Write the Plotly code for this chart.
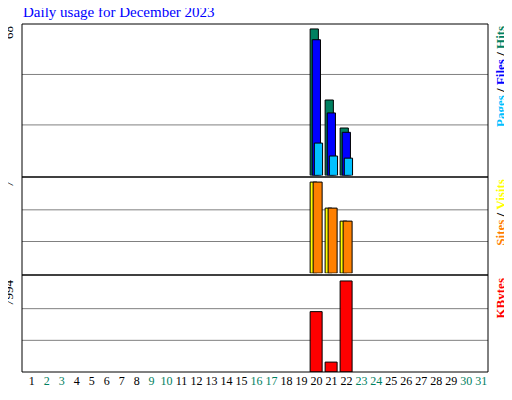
import plotly.graph_objects as go

days = list(range(1, 32))
hits = [0]*19 + [68, 35, 22] + [0]*9
files = [0]*19 + [63, 29, 20] + [0]*9
pages = [0]*19 + [15, 9, 8] + [0]*9
visits = [0]*19 + [7, 5, 4] + [0]*9
sites = [0]*19 + [7, 5, 4] + [0]*9
kbytes = [0]*19 + [5300, 870, 7994] + [0]*9
weekend = [2, 3, 9, 10, 16, 17, 23, 24, 30, 31]

C_HITS, C_FILES, C_PAGES = "#008060", "#0000FF", "#00C0FF"
C_VIS, C_SITES, C_KB = "#FFFF00", "#FF8000", "#FF0000"
FONT = "Liberation Serif"

def bars(y, color, off, w, ax):
    xs = [d for d, v in zip(days, y) if v > 0]
    ys = [v for v in y if v > 0]
    return go.Bar(x=xs, y=ys, offset=off, width=w, marker=dict(color=color, line=dict(color="black", width=1)),
                  xaxis="x", yaxis=ax, showlegend=False, hoverinfo="skip")

fig = go.Figure()
fig.add_trace(bars(hits, C_HITS, -0.42, 0.55, "y"))
fig.add_trace(bars(files, C_FILES, -0.28, 0.55, "y"))
fig.add_trace(bars(pages, C_PAGES, -0.14, 0.55, "y"))
fig.add_trace(bars(visits, C_VIS, -0.42, 0.45, "y2"))
fig.add_trace(bars(sites, C_SITES, -0.22, 0.6, "y2"))
fig.add_trace(bars(kbytes, C_KB, -0.42, 0.8, "y3"))

doms = {"y": [0.565, 1.0], "y2": [0.284, 0.557], "y3": [0.0, 0.273]}
ranges = {"y": [0, 70.3], "y2": [0, 7.3], "y3": [0, 8342]}
ticktext = [f"<span style='color:{'#008060' if d in weekend else 'black'}'>{d}</span>" for d in days]

fig.update_layout(
    width=504, height=392, margin=dict(l=14, r=24, t=16, b=24),
    paper_bgcolor="white", plot_bgcolor="white", barmode="overlay",
    font=dict(family=FONT, size=12, color="black"),
    xaxis=dict(range=[0.35, 31.45], tickvals=days, ticktext=ticktext, ticks="", showgrid=False,
               zeroline=False, anchor="y3", tickfont=dict(size=12)),
)
for ax, key in [("y", "yaxis"), ("y2", "yaxis2"), ("y3", "yaxis3")]:
    fig.layout[key] = dict(domain=doms[ax], range=ranges[ax], showticklabels=False, showgrid=False,
                           zeroline=False, anchor="x")

shapes = []
for ax in ["y", "y2", "y3"]:
    ref = ax + " domain"
    for f in (1/3, 2/3):
        shapes.append(dict(type="line", xref="x domain", yref=ref, x0=0, x1=1, y0=f, y1=f,
                           line=dict(color="#808080", width=1), layer="below"))
shapes.append(dict(type="rect", xref="paper", yref="paper", x0=0, x1=1, y0=0, y1=1,
                   line=dict(color="black", width=1)))
for yy in [0.5605, 0.2785]:
    shapes.append(dict(type="line", xref="paper", yref="paper", x0=0, x1=1, y0=yy, y1=yy,
                       line=dict(color="black", width=1.5)))
fig.update_layout(shapes=shapes)

fig.add_annotation(text="Daily usage for December 2023", xref="paper", yref="paper", x=-0.003, y=1.0,
                   yshift=2, xanchor="left", yanchor="bottom", showarrow=False,
                   font=dict(color="#0000FF", size=15, family=FONT))
for txt, ydom in [("68", 1.0), ("7", 0.557), ("7994", 0.273)]:
    fig.add_annotation(text=txt, xref="paper", yref="paper", x=0, xshift=-4, y=ydom, textangle=-90,
                       xanchor="right", yanchor="top", showarrow=False, font=dict(size=13, family=FONT))
rl = [
    (f"<span style='color:{C_PAGES}'>Pages</span> / <span style='color:{C_FILES}'>Files</span> / <span style='color:{C_HITS}'>Hits</span>", 1.0),
    (f"<span style='color:{C_SITES}'>Sites</span> / <span style='color:{C_VIS}'>Visits</span>", 0.557),
    (f"<span style='color:{C_KB}'>KBytes</span>", 0.273),
]
for txt, ydom in rl:
    fig.add_annotation(text="<b>" + txt + "</b>", xref="paper", yref="paper", x=1, xshift=3, y=ydom,
                       textangle=-90, xanchor="left", yanchor="top", showarrow=False,
                       font=dict(size=13, family=FONT))

fig.write_html("out.html")
